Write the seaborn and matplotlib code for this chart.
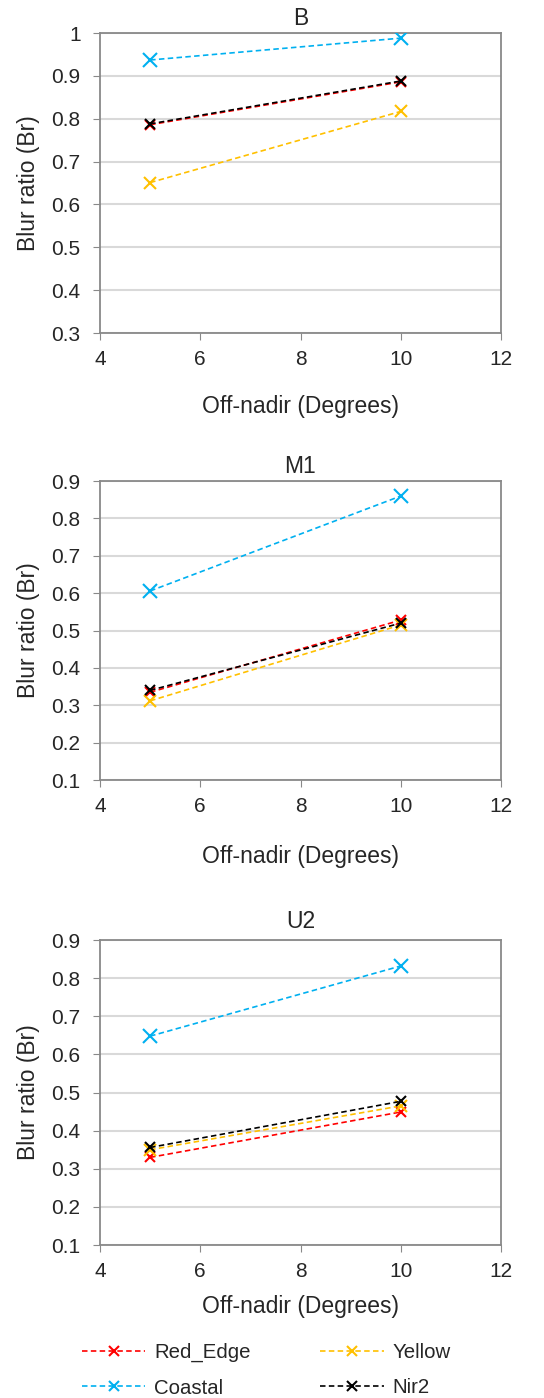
import matplotlib
matplotlib.use("Agg")
import matplotlib.pyplot as plt
import seaborn as sns
import pandas as pd
from matplotlib.lines import Line2D

sns.set_style("white")
plt.rcParams['font.family'] = ['Liberation Sans', 'DejaVu Sans']

off_nadir = [5, 10]
series = ["Red_Edge", "Yellow", "Coastal", "Nir2"]
colors = {"Red_Edge": "#FF0000", "Yellow": "#FFC000", "Coastal": "#00B0F0", "Nir2": "#000000"}
msize = {"Red_Edge": 7, "Yellow": 8, "Coastal": 9.5, "Nir2": 6.5}

B_red = [0.786, 0.886]
B_yellow = [0.651, 0.817]
B_coastal = [0.937, 0.988]
B_nir2 = [0.788, 0.888]

M1_red = [0.335, 0.528]
M1_yellow = [0.312, 0.515]
M1_coastal = [0.606, 0.860]
M1_nir2 = [0.340, 0.520]

U2_red = [0.330, 0.449]
U2_yellow = [0.350, 0.465]
U2_coastal = [0.648, 0.832]
U2_nir2 = [0.356, 0.477]

panels = [
    ("B", [B_red, B_yellow, B_coastal, B_nir2], (0.3, 1.0), [0.3, 0.4, 0.5, 0.6, 0.7, 0.8, 0.9, 1.0]),
    ("M1", [M1_red, M1_yellow, M1_coastal, M1_nir2], (0.1, 0.9), [0.1, 0.2, 0.3, 0.4, 0.5, 0.6, 0.7, 0.8, 0.9]),
    ("U2", [U2_red, U2_yellow, U2_coastal, U2_nir2], (0.1, 0.9), [0.1, 0.2, 0.3, 0.4, 0.5, 0.6, 0.7, 0.8, 0.9]),
]

fig = plt.figure(figsize=(5.44, 13.98), dpi=100)
rects = [
    [100/544, 0.7618, 401/544, 300/1398],
    [100/544, 0.4420, 401/544, 299/1398],
    [100/544, 0.1094, 401/544, 305/1398],
]
xlabel_y = [-0.207, -0.217, -0.164]
title_pad = [6, 6, 9]
dash = (0, (3.3, 2))

for (title, vals, ylim, yticks), rect, xly, tp in zip(panels, rects, xlabel_y, title_pad):
    ax = fig.add_axes(rect)
    for name, v in zip(series, vals):
        df = pd.DataFrame({"x": off_nadir, "y": v})
        sns.lineplot(data=df, x="x", y="y", ax=ax, color=colors[name],
                     linewidth=1.2, marker="x",
                     markersize=msize[name], markeredgewidth=1.5,
                     markeredgecolor=colors[name], markerfacecolor=colors[name],
                     zorder=3)
        ax.lines[-1].set_linestyle(dash)
    ax.set_xlim(4, 12)
    ax.set_xticks([4, 6, 8, 10, 12])
    ax.set_ylim(*ylim)
    ax.set_yticks(yticks)
    ax.set_yticklabels([f"{t:g}" for t in yticks])
    ax.grid(axis="y", color="#D9D9D9", linewidth=1.5)
    ax.set_axisbelow(True)
    for s in ax.spines.values():
        s.set_color("#898989")
        s.set_linewidth(1.3)
    ax.tick_params(axis="y", direction="out", length=5, color="#898989",
                   labelsize=15, left=True, pad=9)
    ax.tick_params(axis="x", direction="out", length=5, color="#898989",
                   labelsize=15, bottom=True, pad=7)
    ax.set_title(title, fontsize=16.5, pad=tp)
    ax.set_xlabel("Off-nadir (Degrees)", fontsize=16.5)
    ax.set_ylabel("Blur ratio (Br)", fontsize=16.5)
    ax.xaxis.set_label_coords(0.5, xly)
    ax.yaxis.set_label_coords(-0.15, 0.5)

handles = [Line2D([0], [0], color=colors[n], linestyle=dash, linewidth=1.2,
                  marker="x", markersize=7.5 if n != "Nir2" else 6.5, markeredgewidth=1.5)
           for n in series]
order = [0, 2, 1, 3]
fig.legend([handles[i] for i in order], [series[i] for i in order],
           loc="upper left", bbox_to_anchor=(82/544, 0.0393), ncol=2, frameon=False,
           fontsize=14.7, handlelength=3.1, columnspacing=3.4, handletextpad=0.45,
           labelspacing=0.8, borderpad=0, borderaxespad=0)

fig.savefig("out.png", dpi=100)
